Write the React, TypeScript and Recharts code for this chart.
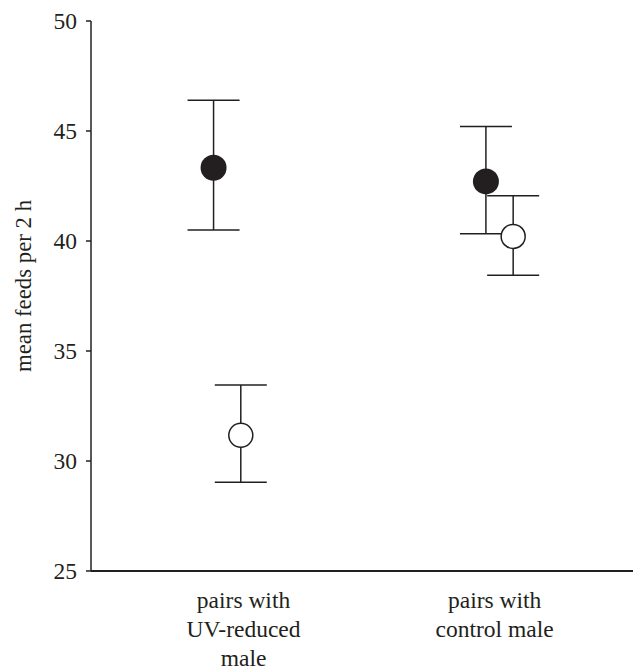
import { ScatterChart, Scatter, XAxis, YAxis, ErrorBar } from "recharts"

const categories = [["pairs with", "UV-reduced", "male"], ["pairs with", "control male"]]
const filledMean = [43.33, 42.71]
const filledLow = [40.5, 40.33]
const filledHigh = [46.4, 45.2]
const openMean = [31.17, 40.21]
const openLow = [29.03, 38.44]
const openHigh = [33.45, 42.06]
const yTicks = [25, 30, 35, 40, 45, 50]

const INK = "#231f20"
const FONT = "Liberation Serif"
const OPEN_OFFSET = 0.1

const filledData = filledMean.map((m, i) => ({
  x: i + 1,
  y: m,
  err: [m - filledLow[i], filledHigh[i] - m],
}))
const openData = openMean.map((m, i) => ({
  x: i + 1 + OPEN_OFFSET,
  y: m,
  err: [m - openLow[i], openHigh[i] - m],
}))
// label centres sit a little right of the filled points
const labelTicks = [1.11, 2.032]

function FilledDot(props: any) {
  return <circle cx={props.cx} cy={props.cy} r={13} fill={INK} />
}

function OpenDot(props: any) {
  return <circle cx={props.cx} cy={props.cy} r={12} fill="#fff" stroke={INK} strokeWidth={1.5} />
}

function CategoryTick(props: any) {
  const lines = categories[props.index] || []
  return (
    <text x={props.x} y={props.y} textAnchor="middle" fill={INK} fontFamily={FONT} fontSize={23.5}>
      {lines.map((l, i) => (
        <tspan key={i} x={props.x} y={props.y + 37 + i * 29}>
          {l}
        </tspan>
      ))}
    </text>
  )
}

export default function App() {
  return (
    <div style={{ position: "absolute", left: 0, top: 0, background: "#fff" }}>
      <ScatterChart width={633} height={669} margin={{ top: 21, right: 0, bottom: 0, left: 0 }}>
        <XAxis
          type="number"
          dataKey="x"
          domain={[0.55, 2.54]}
          allowDataOverflow
          ticks={labelTicks}
          tick={<CategoryTick />}
          tickLine={false}
          tickSize={0}
          tickMargin={0}
          height={98}
          axisLine={{ stroke: INK, strokeWidth: 2 }}
          interval={0}
        />
        <YAxis
          type="number"
          dataKey="y"
          domain={[25, 50]}
          ticks={yTicks}
          width={91}
          tickSize={5}
          tickMargin={9}
          axisLine={{ stroke: INK, strokeWidth: 1.5 }}
          tickLine={{ stroke: INK, strokeWidth: 1.5 }}
          tick={{ fill: INK, fontFamily: FONT, fontSize: 23.5 }}
          label={{
            content: () => (
              <text
                x={0}
                y={0}
                transform="translate(31,286) rotate(-90)"
                textAnchor="middle"
                fill={INK}
                fontFamily={FONT}
                fontSize={22.8}
              >
                mean feeds per 2 h
              </text>
            ),
          }}
        />
        <Scatter data={filledData} shape={<FilledDot />} isAnimationActive={false}>
          <ErrorBar dataKey="err" direction="y" width={26} stroke={INK} strokeWidth={1.5} />
        </Scatter>
        <Scatter data={openData} shape={<OpenDot />} isAnimationActive={false}>
          <ErrorBar dataKey="err" direction="y" width={26} stroke={INK} strokeWidth={1.5} />
        </Scatter>
      </ScatterChart>
    </div>
  )
}
